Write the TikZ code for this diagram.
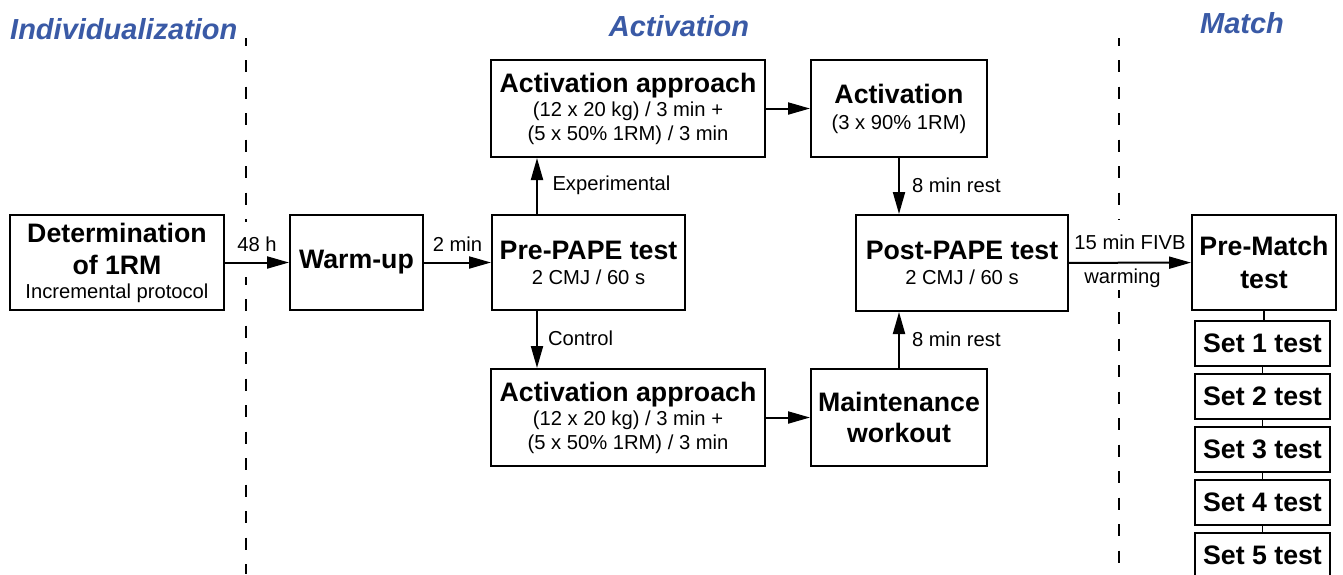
\documentclass[tikz,border=0pt]{standalone}
\usepackage{fontspec}
\setmainfont{Liberation Sans}
\usetikzlibrary{arrows.meta}
\definecolor{headblue}{RGB}{58,90,166}
% bold title line inside a box
\newcommand{\ttl}[1]{{\fontsize{26.7pt}{32pt}\selectfont\bfseries #1}}

\begin{document}
\begin{tikzpicture}[x=1pt,y=-1pt,
  box/.style={draw, line width=2pt, inner sep=0pt, align=center,
              font=\fontsize{20.2pt}{24pt}\selectfont},
  setbox/.style={box, line width=1.6pt, minimum width=135pt, minimum height=45pt},
  arr/.style={line width=2pt, -{Triangle[length=22pt,width=12pt]}},
  link/.style={line width=1.6pt},
  lbl/.style={inner sep=0pt, font=\fontsize{20.2pt}{24pt}\selectfont},
  head/.style={inner sep=0pt, text=headblue,
               font=\fontsize{29pt}{34pt}\selectfont\bfseries\itshape},
  phase/.style={line width=2pt, dash pattern=on 12pt off 14.5pt, dash phase=4.5pt}
]
\fill[white] (0,0) rectangle (1343,574);
\useasboundingbox (0,0) rectangle (1343,574);

% phase headings
\node[head, anchor=base west] (hInd)   at (10,39)  {Individualization};
\node[head, anchor=base]      (hAct)   at (679,36) {Activation};
\node[head, anchor=base]      (hMatch) at (1242,33) {Match};

% phase separators
\draw[phase] (246,38) -- (246,222);
\draw[phase] (246,277) -- (246,574);
\draw[phase] (1119,38) -- (1119,220);
\draw[phase] (1119,290) -- (1119,574);

% boxes
\node[box, minimum width=214pt, minimum height=95pt] (det) at (117,262.5)
  {\ttl{Determination}\\[8pt]\ttl{of 1RM}\\Incremental protocol};
\node[box, minimum width=133pt, minimum height=95pt] (warm) at (356.5,262.5)
  {\ttl{Warm-up}};
\node[box, minimum width=193pt, minimum height=95pt] (pre) at (588.5,262.5)
  {\ttl{Pre-PAPE test}\\[1pt]2 CMJ / 60 s};
\node[box, minimum width=274pt, minimum height=97pt] (acta) at (628,108.5)
  {\ttl{Activation approach}\\(12 x 20 kg) / 3 min +\\(5 x 50\% 1RM) / 3 min};
\node[box, minimum width=176pt, minimum height=97pt] (act) at (899,108.5)
  {\ttl{Activation}\\[2pt](3 x 90\% 1RM)};
\node[box, minimum width=274pt, minimum height=97pt] (actb) at (628,417.5)
  {\ttl{Activation approach}\\(12 x 20 kg) / 3 min +\\(5 x 50\% 1RM) / 3 min};
\node[box, minimum width=176pt, minimum height=97pt] (maint) at (899,417.5)
  {\ttl{Maintenance}\\[7pt]\ttl{workout}};
\node[box, minimum width=212pt, minimum height=96pt] (post) at (962,263)
  {\ttl{Post-PAPE test}\\[1pt]2 CMJ / 60 s};
\node[box, minimum width=144pt, minimum height=95pt] (prem) at (1264,262.5)
  {\ttl{Pre-Match}\\[9pt]\ttl{test}};

% in-match tests
\node[setbox] (s1) at (1262.5,343.5) {\ttl{Set 1 test}};
\node[setbox] (s2) at (1262.5,396.5) {\ttl{Set 2 test}};
\node[setbox] (s3) at (1262.5,449.5) {\ttl{Set 3 test}};
\node[setbox] (s4) at (1262.5,502.5) {\ttl{Set 4 test}};
\node[setbox] (s5) at (1262.5,555.5) {\ttl{Set 5 test}};

% branch column below/above the pre-test
\coordinate (xA) at (537,0);

% connectors
\draw[arr] (det) -- node[lbl, anchor=base, yshift=11.5pt] (l48) {48 h} (warm);
\draw[arr] (warm) -- node[lbl, anchor=base, yshift=11.5pt] (l2) {2 min} (pre);
\draw[arr] (pre.north -| xA) -- node[lbl, anchor=base west, xshift=14.5pt, yshift=-4pt] (lexp) {Experimental} (acta.south -| xA);
\draw[arr] (pre.south -| xA) -- node[lbl, anchor=base west, xshift=10pt, yshift=-6pt] (lctl) {Control} (actb.north -| xA);
\draw[arr] (acta) -- (act);
\draw[arr] (actb) -- (maint);
\draw[arr] (act.south) -- node[lbl, anchor=base west, xshift=12pt, yshift=-6pt] (lr1) {8 min rest} (act.south |- post.north);
\draw[arr] (maint.north) -- node[lbl, anchor=base west, xshift=12pt, yshift=-6.5pt] (lr2) {8 min rest} (maint.north |- post.south);
\draw[arr] (post) -- node[lbl, anchor=base, yshift=13.5pt] (lfivb) {15 min FIVB}
                     node[lbl, anchor=base, xshift=-7.5pt, yshift=-21pt] (lwarm) {warming} (prem);
\draw[link] (prem.south) -- (prem.south |- s1.north);
\draw[link] (s1) -- (s2);
\draw[link] (s2) -- (s3);
\draw[link] (s3) -- (s4);
\draw[link] (s4) -- (s5);
\end{tikzpicture}
\end{document}
